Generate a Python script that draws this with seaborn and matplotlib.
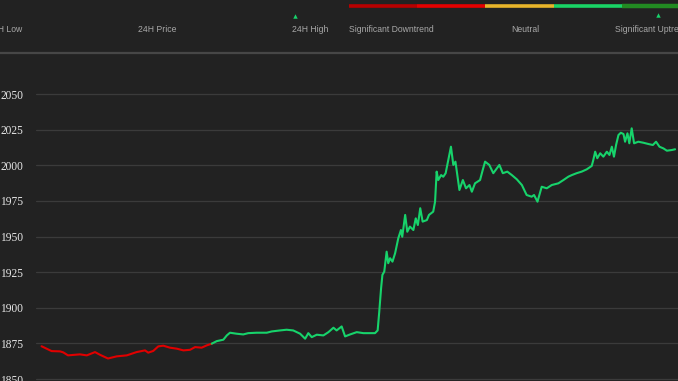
import matplotlib
matplotlib.use("Agg")
import matplotlib.pyplot as plt
import numpy as np
import pandas as pd
import seaborn as sns

# ---- data (hours since start of 24h window, price) ----
hours = [0.06, 0.44, 0.76, 0.88, 1.06, 1.51, 1.77, 2.08, 2.27, 2.57, 2.90, 3.28, 3.65, 3.97,
         4.09, 4.28, 4.47, 4.66, 4.91, 5.17, 5.42, 5.67, 5.86, 6.11, 6.30, 6.49,
         6.68, 6.93, 7.06, 7.18, 7.43, 7.68, 7.87, 8.19, 8.57, 8.76, 9.07, 9.32, 9.57, 9.83,
         10.02, 10.14, 10.27, 10.46, 10.71, 10.90, 11.09, 11.21, 11.40, 11.53, 11.72, 11.97,
         12.22, 12.47, 12.66, 12.76, 12.82,
         12.89, 12.94, 13.01, 13.10, 13.16, 13.23, 13.32, 13.42, 13.54, 13.64, 13.69, 13.80,
         13.88, 13.98, 14.11, 14.20, 14.28, 14.37, 14.46, 14.62, 14.70, 14.86, 14.93, 14.99,
         15.05, 15.16, 15.24, 15.33, 15.43, 15.53, 15.62, 15.70,
         15.85, 15.98,
         16.10, 16.23, 16.32, 16.44, 16.63, 16.73, 16.82, 16.98, 17.13, 17.36, 17.49, 17.66,
         17.83, 18.02, 18.21, 18.39, 18.58, 18.67, 18.80, 18.96, 19.15, 19.34, 19.59, 19.78,
         19.97, 20.10, 20.28, 20.47, 20.66, 20.85, 20.91, 20.98, 21.06, 21.17, 21.29, 21.42,
         21.52, 21.61, 21.69, 21.77, 21.86, 21.95, 22.05, 22.11, 22.20, 22.27, 22.36, 22.45,
         22.61, 22.80, 22.99, 23.16, 23.28, 23.41, 23.56, 23.69, 23.88, 24.00]
price = [1873.0, 1869.6, 1869.4, 1868.7, 1866.6, 1867.3, 1866.6, 1868.9, 1867.0, 1864.4,
         1865.9, 1866.6, 1868.9, 1870.1, 1868.5, 1869.7, 1872.9, 1873.4, 1872.0, 1871.3,
         1870.1, 1870.5, 1872.4, 1872.0, 1873.6, 1874.8,
         1876.6, 1877.6, 1880.6, 1882.5, 1881.8, 1881.3, 1882.2, 1882.5, 1882.5, 1883.4,
         1884.1, 1884.6, 1884.1, 1881.8, 1878.3, 1882.2, 1879.4, 1881.1, 1880.6, 1882.9,
         1886.0, 1884.1, 1886.9, 1879.9, 1881.3, 1882.9, 1882.2, 1882.2, 1882.2, 1884.1,
         1897.0,
         1913.7, 1923.1, 1925.4, 1939.4, 1931.3, 1934.8, 1932.4, 1938.3, 1948.8, 1954.6,
         1949.9, 1965.2, 1953.4, 1957.0, 1954.6, 1962.8, 1958.1, 1969.9, 1960.5, 1961.6,
         1965.2, 1967.5, 1974.5, 1995.6, 1989.7, 1993.2, 1992.0, 1994.5, 2003.8, 2013.1,
         2000.3, 2002.6,
         1982.7, 1989.7, 1983.9, 1986.2, 1981.5, 1987.4, 1989.7, 1996.7, 2002.6, 2000.3,
         1994.5, 2000.3, 1994.5, 1995.6, 1993.2, 1990.2, 1986.2, 1979.2, 1978.0, 1979.2,
         1974.5, 1985.0, 1983.9, 1986.2, 1987.4, 1989.7, 1992.1, 1993.2, 1994.5, 1995.6,
         1997.2, 1999.6, 2003.8, 2009.6, 2005.0, 2008.5, 2006.1, 2009.6, 2007.3, 2013.1,
         2006.1, 2014.3, 2021.3, 2022.9, 2022.0, 2016.6, 2022.5, 2015.5, 2026.0, 2015.5,
         2016.6, 2015.9, 2015.0, 2014.3, 2016.6, 2013.1, 2011.9, 2010.3, 2010.8, 2011.3]
split_hour = 6.49
yticks = [1850, 1875, 1900, 1925, 1950, 1975, 2000, 2025, 2050]
header_labels = ["24H Low", "24H Price", "24H High"]
trend_labels = ["Significant Downtrend", "Neutral", "Significant Uptrend"]
trend_colors = ["#b80000", "#e50000", "#e8b52a", "#19d466", "#228b22"]

BG = "#222222"
RED = "#e00000"
GREEN = "#17d36b"

df = pd.DataFrame({"hour": hours, "price": price})
down = df[df["hour"] <= split_hour]
up = df[df["hour"] >= split_hour]

sns.set_theme(style="dark")
plt.rcParams["font.family"] = ["Liberation Sans", "DejaVu Sans"]

W, H = 678, 381
fig = plt.figure(figsize=(W / 100, H / 100), dpi=100, facecolor=BG)

# main chart
ax = fig.add_axes([36 / W, 0, (W - 36) / W, (H - 52) / H])
ax.set_facecolor(BG)
sns.lineplot(data=down, x="hour", y="price", ax=ax, color=RED, lw=1.5, sort=False)
sns.lineplot(data=up, x="hour", y="price", ax=ax, color=GREEN, lw=1.5, sort=False)
ax.set_xlim(-0.15, 24.11)
ax.set_ylim(1848.6, 2079.6)
ax.set_yticks(yticks)
ax.set_yticklabels([str(v) for v in yticks], family=["Liberation Serif", "DejaVu Serif"],
                   fontsize=8.3, color="#e6e6e6")
ax.set_xticks([])
ax.set_xlabel("")
ax.set_ylabel("")
ax.tick_params(axis="y", length=0, pad=9)
ax.yaxis.grid(True, color="#3b3b3b", lw=0.9)
ax.xaxis.grid(False)
for s in ax.spines.values():
    s.set_visible(False)

# header
hax = fig.add_axes([0, (H - 52) / H, 1, 52 / H])
hax.set_facecolor(BG)
hax.set_xlim(0, W)
hax.set_ylim(52, 0)
hax.axis("off")
hax.plot([0, W], [52.5, 52.5], color="#474747", lw=1.6, clip_on=False, solid_capstyle="butt")
bounds = [349, 417.3, 485.3, 553.7, 622, 690]
for i, c in enumerate(trend_colors):
    hax.plot([bounds[i], bounds[i + 1]], [5.6, 5.6], color=c, lw=2.6 if i < 4 else 3.2,
             solid_capstyle="butt", clip_on=False)
hax.plot([295, 658], [16, 15], ls="none", marker="^", ms=3.2, color=GREEN, mew=0)
tcol = "#a8a8a8"
fs = 6.2
hax.text(22, 30, header_labels[0], ha="right", va="center", color=tcol, fontsize=fs)
hax.text(157, 30, header_labels[1], ha="center", va="center", color=tcol, fontsize=fs)
hax.text(310.5, 30, header_labels[2], ha="center", va="center", color=tcol, fontsize=fs)
hax.text(349, 30, trend_labels[0], ha="left", va="center", color=tcol, fontsize=fs)
hax.text(525, 30, trend_labels[1], ha="center", va="center", color=tcol, fontsize=fs)
hax.text(615, 30, trend_labels[2], ha="left", va="center", color=tcol, fontsize=fs, clip_on=False)

fig.savefig("out.png", dpi=100, facecolor=BG)
